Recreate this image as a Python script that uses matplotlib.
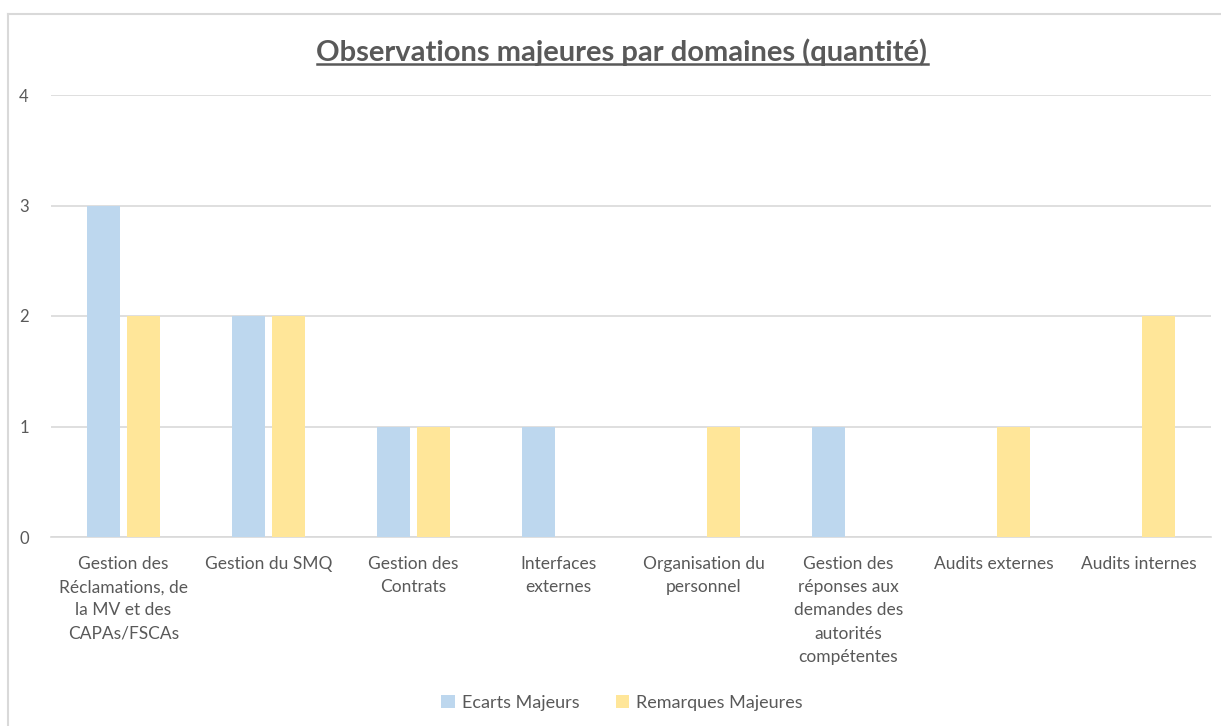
import matplotlib
matplotlib.use("Agg")
import matplotlib.pyplot as plt
import numpy as np
from matplotlib.lines import Line2D

categories = [
    "Gestion des\nRéclamations, de\nla MV et des\nCAPAs/FSCAs",
    "Gestion du SMQ",
    "Gestion des\nContrats",
    "Interfaces\nexternes",
    "Organisation du\npersonnel",
    "Gestion des\nréponses aux\ndemandes des\nautorités\ncompétentes",
    "Audits externes",
    "Audits internes",
]
ecarts_majeurs = [3, 2, 1, 1, 0, 1, 0, 0]
remarques_majeures = [2, 2, 1, 0, 1, 0, 1, 2]
yticks = [0, 1, 2, 3, 4]

title = "Observations majeures par domaines (quantité)"
blue = "#BDD7EE"
yellow = "#FFE699"
grid = "#D9D9D9"
txt = "#595959"

plt.rcParams['font.family'] = ['Lato', 'DejaVu Sans']

W, H = 1221, 726
fig = plt.figure(figsize=(W / 100, H / 100), dpi=100)
fig.patch.set_facecolor("white")

# outer chart border
fig.add_artist(Line2D([8 / W, 8 / W], [0, 1 - 14 / H], transform=fig.transFigure, color=grid, lw=1.5))
fig.add_artist(Line2D([8 / W, 1], [1 - 14 / H, 1 - 14 / H], transform=fig.transFigure, color=grid, lw=1.5))

ax = fig.add_axes([51 / W, 1 - 537 / H, (1211 - 51) / W, (537 - 95) / H])
x = np.arange(len(categories))
bw = 0.227
gap = 0.055
off = (bw + gap) / 2
ax.bar(x - off, ecarts_majeurs, bw, color=blue, label="Ecarts Majeurs", zorder=3)
ax.bar(x + off, remarques_majeures, bw, color=yellow, label="Remarques Majeures", zorder=3)

ax.set_xlim(-0.5, len(categories) - 0.5)
ax.set_ylim(0, 4)
ax.set_yticks(yticks)
ax.set_yticklabels([str(v) for v in yticks], color=txt, fontsize=12)
ax.set_xticks(x)
ax.set_xticklabels(categories, color=txt, fontsize=12.5, linespacing=1.54, va="top")
ax.tick_params(axis="both", length=0)
ax.tick_params(axis="x", pad=14)
ax.tick_params(axis="y", pad=16)
ax.yaxis.grid(True, color=grid, lw=1.2, zorder=0)
for s in ["top", "right", "left"]:
    ax.spines[s].set_visible(False)
ax.spines["bottom"].set_color(grid)
ax.spines["bottom"].set_linewidth(1.2)
ax.set_axisbelow(True)

t = fig.text(622 / W, 1 - 52 / H, title, ha="center", va="center", fontsize=21,
             fontweight="bold", color=txt)

leg = fig.legend(loc="center", bbox_to_anchor=(622 / W, 1 - 703 / H), ncol=2, frameon=False,
                 fontsize=13, handlelength=0.75, handleheight=0.75, handletextpad=0.4,
                 columnspacing=2.0)
for text in leg.get_texts():
    text.set_color(txt)

# underline the title
fig.canvas.draw()
bb = t.get_window_extent(renderer=fig.canvas.get_renderer())
inv = fig.transFigure.inverted()
(x0, y0), (x1, y1) = inv.transform([(bb.x0, bb.y0), (bb.x1, bb.y1)])
fig.add_artist(Line2D([x0, x1], [y0 + 2 / H, y0 + 2 / H], transform=fig.transFigure, color=txt, lw=1.8))

fig.savefig("out.png", dpi=100, facecolor="white")
